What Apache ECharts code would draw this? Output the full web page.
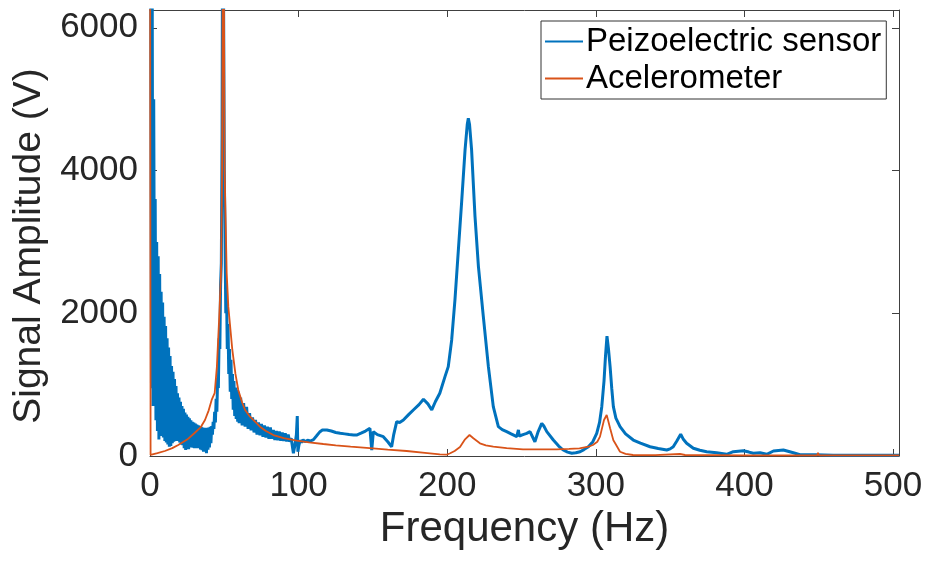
<!DOCTYPE html>
<html>
<head>
<meta charset="utf-8">
<title>Signal amplitude spectrum</title>
<script src="https://cdn.jsdelivr.net/npm/echarts@6/dist/echarts.min.js"></script>
<style>
  html, body { margin: 0; padding: 0; background: #fff; }
  #chart { width: 925px; height: 563px; }
</style>
</head>
<body>
<div id="chart"></div>
<script>
// values: [frequency (Hz), amplitude (V)]
const piezoSpectrum = [
  [0, 9000], [0.5, 6800], [1, 950], [1.5, 6500], [2, 700], [2.5, 5000], [3, 1800], [3.5, 3600],
  [4, 500], [4.5, 3000], [5, 350], [5.5, 2800], [6, 230], [6.5, 2550], [7, 280], [7.5, 2300],
  [8, 320], [8.5, 2150], [9, 260], [9.5, 1950], [10, 210], [10.5, 1820], [11, 190], [11.5, 1650],
  [12, 160], [12.5, 1520], [13, 130], [13.5, 1400], [14, 140], [14.5, 1260], [15, 180], [15.5, 1180],
  [16, 200], [16.5, 1080], [17, 230], [17.5, 980], [18, 210], [18.5, 880], [19, 224], [19.5, 820],
  [20, 190], [20.5, 760], [21, 160], [21.5, 700], [22, 150], [22.5, 660], [23, 110], [23.5, 610],
  [24, 84], [24.5, 580], [25, 110], [25.5, 550], [26, 95], [26.5, 530], [27, 120], [27.5, 500],
  [28, 140], [28.5, 480], [29, 115], [29.5, 470], [30, 108], [30.5, 455], [31, 130], [31.5, 440],
  [32, 110], [32.5, 430], [33, 120], [33.5, 420], [34, 90], [34.5, 410], [35, 80], [35.5, 400],
  [36, 60], [36.5, 395], [37, 70], [37.5, 390], [38, 38], [38.5, 395], [39, 90], [39.5, 400],
  [40, 120], [40.5, 410], [41, 180], [41.5, 420], [42, 300], [42.5, 480], [43, 380], [43.5, 620],
  [44, 470], [44.5, 800], [45, 620], [45.5, 1100], [46, 950], [46.5, 1650], [47, 1500], [47.5, 2400],
  [48, 2700], [48.5, 4500], [49, 9000], [49.5, 9000], [50, 4000], [50.5, 3000], [51, 2000], [51.5, 2300],
  [52, 1500], [52.5, 1850], [53, 1150], [53.5, 1500], [54, 900], [54.5, 1350], [55, 800], [55.5, 1150],
  [56, 650], [56.5, 1050], [57, 560], [57.5, 960], [58, 520], [58.5, 930], [59, 480], [59.5, 900],
  [60, 460], [61, 820], [62, 430], [63, 740], [64, 411], [65, 690], [66, 380], [67, 600],
  [68, 360], [69, 540], [70, 330], [71, 505], [72, 300], [73, 470], [74, 290], [75, 450],
  [76, 270], [77, 430], [78, 260], [79, 410], [80, 240], [81, 400], [82, 240], [83, 365],
  [84, 225], [85, 350], [86, 220], [87, 345], [88, 215], [89, 330], [90, 210], [91, 320],
  [92, 205], [93, 300], [94, 200], [95, 250], [96.5, 38], [97.5, 150], [98.5, 300], [99.1, 561],
  [99.5, 60], [100.2, 150], [101, 220], [102, 190], [103, 230], [104, 200], [106, 220], [108, 210],
  [110, 230], [112, 280], [114.4, 341], [116, 365], [119, 365], [122, 350], [125, 330], [128, 318],
  [131, 310], [134, 300], [137, 295], [139, 294], [142, 320], [145, 350], [148, 388], [149.2, 84],
  [150.3, 341], [153, 300], [157, 271], [160, 200], [162.6, 130], [164, 300], [166, 481], [168, 470],
  [170.5, 505], [174, 580], [177.2, 645], [181, 720], [184, 795], [187, 730], [189.6, 645], [192, 760],
  [195, 879], [198.5, 1112], [200.7, 1252], [203, 1626], [205.2, 2187], [207.5, 2888], [209.8, 3589], [212, 4290],
  [213.5, 4650], [214.2, 4734], [215, 4650], [216.4, 4290], [218.7, 3355], [221, 2654], [224.3, 1953], [227.7, 1252],
  [231, 691], [234.4, 411], [237, 370], [240, 341], [243, 310], [246.8, 271], [247.9, 365], [248.5, 280],
  [251, 300], [253.5, 318], [255.7, 341], [259, 200], [261, 330], [263.6, 458], [265, 420], [267, 341],
  [271.4, 224], [275, 140], [278, 84], [281, 55], [283.8, 38], [286.5, 45], [289.4, 60], [292, 90],
  [295, 130], [298, 200], [300.6, 318], [302.5, 470], [304, 691], [305.5, 1050], [306.5, 1400], [307.5, 1680],
  [308.5, 1500], [309.6, 1252], [310.7, 950], [311.8, 691], [313.5, 530], [316.3, 411], [320, 310], [325.2, 224],
  [330, 180], [336.5, 130], [342, 105], [347.7, 84], [350, 100], [352.1, 130], [354.5, 210], [357.1, 304],
  [359, 230], [361.1, 178], [365.6, 108], [370, 80], [374.6, 60], [381.3, 46], [388, 24], [392.5, 60],
  [399.3, 74], [403, 55], [406, 38], [410.5, 46], [415, 24], [419.5, 70], [426.2, 84], [432.9, 46],
  [437.4, 18], [448, 18], [459.8, 10], [482, 10], [504, 10]
];

const accelSpectrum = [
  [0, 9000], [0.4, 15], [1, 20], [5, 40], [10, 70], [15, 110], [19, 154], [25, 230],
  [30, 322], [34, 400], [37, 505], [39.5, 640], [41.5, 785], [43.5, 880], [45, 1250], [46.4, 1865],
  [47.8, 2565], [48.5, 4000], [49.3, 9000], [50.2, 4000], [51.6, 2565], [52.7, 2093], [55.4, 1486], [57.5, 1150],
  [59.4, 925], [62, 750], [64, 645], [67.3, 551], [70.7, 481], [74, 411], [78, 350], [83, 294],
  [90, 250], [98.7, 215], [107, 190], [116.6, 168], [125, 150], [135, 130], [150, 108], [160, 90],
  [172.7, 70], [185, 45], [195, 24], [199.6, 18], [202, 38], [205, 70], [208.6, 125], [212, 234],
  [215, 294], [217.6, 248], [222, 178], [226, 150], [231, 130], [240, 110], [251, 94], [262, 94],
  [273.7, 94], [282, 100], [289, 108], [295, 130], [298, 154], [301, 200], [302.8, 271], [305.5, 505],
  [307.3, 575], [308.5, 480], [309.6, 388], [311.8, 220], [313, 178], [316.3, 60], [320, 30], [325, 14],
  [340, 12], [356.6, 28], [360, 14], [380, 12], [400, 10], [420, 10], [440, 10], [449, 10],
  [449.5, 46], [450, 10], [470, 8], [504, 8]
];

const seriesNames = ['Peizoelectric sensor', 'Acelerometer'];
const seriesColors = ['#0072BD', '#D95319'];
const xTicks = [0, 100, 200, 300, 400, 500];
const yTicks = [0, 2000, 4000, 6000];

const axisColor = '#404040';
const fontFamily = '"Liberation Sans", Arial, Helvetica, sans-serif';

const chart = echarts.init(document.getElementById('chart'), null, { renderer: 'canvas' });

// MATLAB-style box: ticks inside on all four sides, labels only bottom/left
const boxAxis = (extra) => Object.assign({
  type: 'value',
  axisLine: { show: true, onZero: false, lineStyle: { color: axisColor, width: 1 } },
  axisTick: { show: true, inside: true, length: 7, lineStyle: { color: axisColor } },
  splitLine: { show: false },
}, extra)

const option = {
  animation: false,
  backgroundColor: '#fff',
  color: seriesColors,
  grid: { left: 150, right: 26, top: 10, bottom: 107, containLabel: false, outerBoundsMode: 'none' },
  legend: {
    left: 541,
    top: 21,
    orient: 'vertical',
    padding: [2, 5, 2, 4],
    itemGap: 0,
    itemWidth: 38,
    itemHeight: 2,
    icon: 'rect',
    backgroundColor: '#fff',
    borderColor: '#333',
    borderWidth: 1,
    borderRadius: 0,
    textStyle: { fontFamily, fontSize: 33, color: '#000', lineHeight: 37, padding: [0, 0, 0, -2] },
    data: seriesNames
  },
  xAxis: [
    boxAxis({
      position: 'bottom',
      min: 0,
      max: 504,
      interval: xTicks[1] - xTicks[0],
      name: 'Frequency (Hz)',
      nameLocation: 'middle',
      nameGap: 48,
      nameTextStyle: { fontFamily, fontSize: 42, color: '#262626' },
      axisLabel: {
        show: true, margin: 13, fontFamily, fontSize: 35, color: '#262626',
        showMaxLabel: false,
        formatter: v => (xTicks.includes(v) ? String(v) : '')
      }
    }),
    boxAxis({
      position: 'top',
      min: 0,
      max: 504,
      interval: xTicks[1] - xTicks[0],
      axisLabel: { show: false }
    })
  ],
  yAxis: [
    boxAxis({
      position: 'left',
      min: 0,
      max: 6250,
      interval: yTicks[1] - yTicks[0],
      name: 'Signal Amplitude (V)',
      nameLocation: 'middle',
      nameGap: 98,
      nameTextStyle: { fontFamily, fontSize: 39, color: '#262626', padding: [0, 26, 0, 0] },
      axisLabel: {
        show: true, margin: 12, fontFamily, fontSize: 35, color: '#262626',
        showMaxLabel: false,
        formatter: v => (yTicks.includes(v) ? String(v) : '')
      }
    }),
    boxAxis({
      position: 'right',
      min: 0,
      max: 6250,
      interval: yTicks[1] - yTicks[0],
      axisLabel: { show: false }
    })
  ],
  series: [
    {
      name: seriesNames[0],
      type: 'line',
      data: piezoSpectrum,
      symbol: 'none',
      clip: true,
      lineStyle: { width: 3, color: seriesColors[0] },
      z: 2
    },
    {
      name: seriesNames[1],
      type: 'line',
      data: accelSpectrum,
      symbol: 'none',
      clip: true,
      lineStyle: { width: 1.8, color: seriesColors[1] },
      z: 3
    }
  ]
}

chart.setOption(option);
</script>
</body>
</html>
